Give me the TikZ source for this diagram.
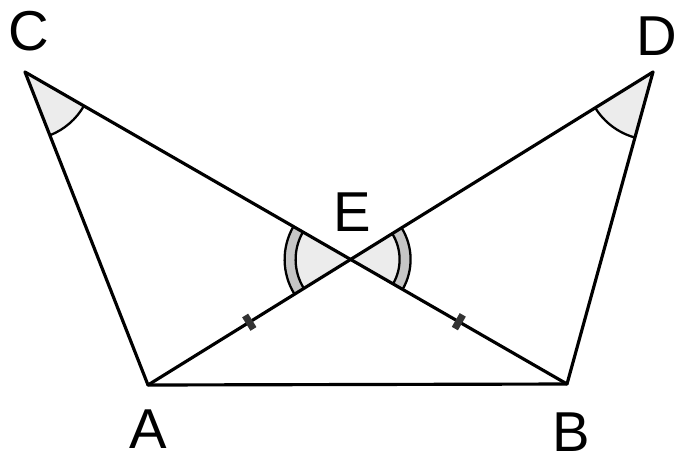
\documentclass[tikz,border=0pt]{standalone}
\usepackage{fontspec}
\setmainfont{Liberation Sans}
\usetikzlibrary{angles}
\tikzset{
  edge/.style={line width=1.8pt, line cap=round, line join=round},
  anglemark/.style={draw, line width=1.3pt, fill=gray!15},
  anglering/.style={draw, line width=1.3pt, fill=gray!45},
  ptlabel/.style={font=\fontsize{32}{36}\selectfont},
  tickmark/.style={sloped, fill=black!80, inner sep=0pt, minimum width=4pt, minimum height=9pt}
}

\begin{document}
\begin{tikzpicture}[x=0.02cm, y=-0.02cm]
    \useasboundingbox (0,0) rectangle (679,461);

    % Vertices
    \coordinate (C) at (25,72);
    \coordinate (D) at (653,72);
    \coordinate (A) at (148,385);
    \coordinate (B) at (567,384);
    \coordinate (E) at (intersection of C--B and D--A);

    % Angle marks
    \pic[anglemark, angle radius=1.36cm] {angle=A--C--B};
    \pic[anglemark, angle radius=1.36cm] {angle=A--D--B};
    \pic[anglering, angle radius=1.32cm] {angle=C--E--A};
    \pic[anglemark, angle radius=1.1cm] {angle=C--E--A};
    \pic[anglering, angle radius=1.2cm] {angle=B--E--D};
    \pic[anglemark, angle radius=0.98cm] {angle=B--E--D};

    % Sides
    \draw[edge] (C) -- (A) -- (B) -- (D);
    \draw[edge] (C) -- (B);
    \draw[edge] (D) -- (A);

    % Equal parts
    \path (E) -- (A) node[midway, tickmark] {};
    \path (E) -- (B) node[midway, tickmark] {};

    % Labels
    \node[ptlabel] (labC) at (29,31) {C};
    \node[ptlabel] (labD) at (657,36) {D};
    \node[ptlabel] (labE) at (352,212) {E};
    \node[ptlabel] (labA) at (148,429) {A};
    \node[ptlabel] (labB) at (571,432) {B};

\end{tikzpicture}
\end{document}
